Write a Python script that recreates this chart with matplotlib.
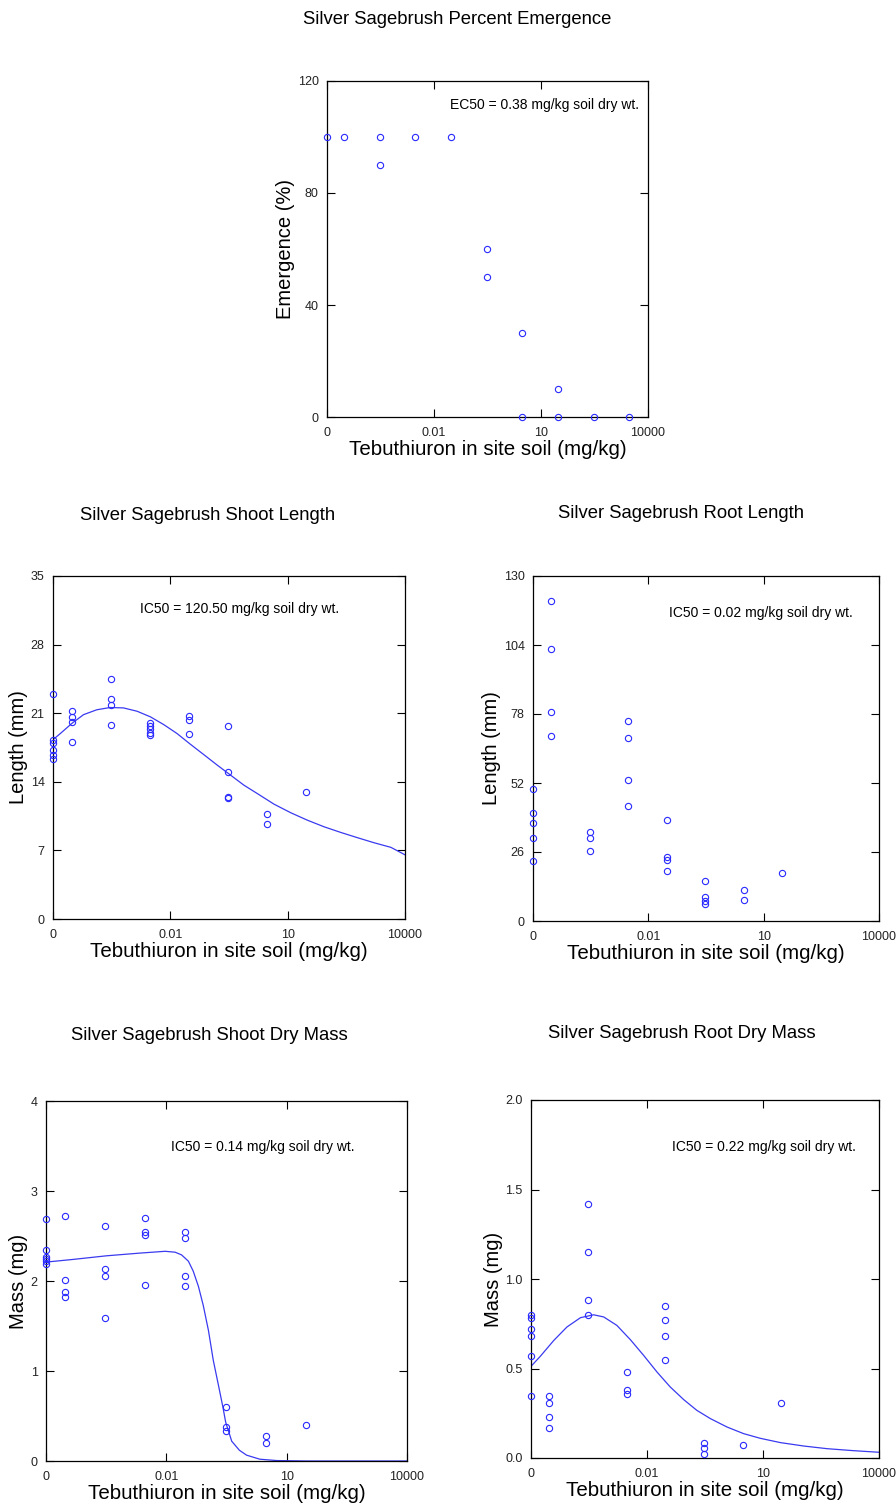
import matplotlib
matplotlib.use('Agg')
import matplotlib.pyplot as plt
import numpy as np

plt.rcParams['font.family'] = ['Liberation Sans', 'DejaVu Sans']

# control samples are plotted at the left edge of the log axis (labelled "0")
ctrl = 1e-5

# --- Percent emergence
emerg_x = [ctrl, 3e-5, 3e-4, 3e-4, 3e-3, 3e-2, 0.3, 0.3, 3, 3, 30, 30, 300, 3000]
emerg_y = [100, 100, 100, 90, 100, 100, 60, 50, 30, 0, 10, 0, 0, 0]

# --- Shoot length (mm)
shoot_len_x = [ctrl]*6 + [3e-5]*4 + [3e-4]*4 + [3e-3]*5 + [3e-2]*3 + [0.3]*4 + [3]*2 + [30]
shoot_len_y = [23.0, 18.3, 18.0, 17.2, 16.7, 16.3,
               21.2, 20.6, 20.1, 18.1,
               24.5, 22.4, 21.8, 19.8,
               20.0, 19.7, 19.4, 19.0, 18.8,
               20.7, 20.3, 18.9,
               19.7, 15.0, 12.5, 12.3,
               10.7, 9.7,
               13.0]
shoot_len_fit_logx = [-5, -4.82, -4.52, -4.22, -3.88, -3.54, -3.2, -2.85, -2.51, -2.17, -1.83,
                      -1.49, -1.15, -0.8, -0.46, -0.12, 0.22, 0.65, 1.08, 1.5, 1.93, 2.36,
                      2.79, 3.21, 3.64, 4.0]
shoot_len_fit_y = [18.3, 18.9, 19.95, 20.85, 21.35, 21.58, 21.54, 21.2, 20.63, 19.84, 18.93,
                   17.84, 16.79, 15.7, 14.68, 13.66, 12.81, 11.72, 10.84, 10.09, 9.41, 8.83,
                   8.29, 7.78, 7.31, 6.55]

# --- Root length (mm)
root_len_x = [ctrl]*5 + [3e-5]*4 + [3e-4]*3 + [3e-3]*4 + [3e-2]*4 + [0.3]*4 + [3]*2 + [30]
root_len_y = [49.7, 40.8, 36.9, 31.1, 22.7,
              120.7, 102.5, 78.7, 69.8,
              33.7, 31.2, 26.2,
              75.4, 69.0, 53.3, 43.3,
              37.9, 24.1, 23.0, 18.9,
              15.1, 8.9, 7.7, 6.5,
              11.7, 8.0,
              18.1]

# --- Shoot dry mass (mg)
shoot_mass_x = [ctrl]*6 + [3e-5]*4 + [3e-4]*4 + [3e-3]*4 + [3e-2]*4 + [0.3]*3 + [3]*2 + [30]
shoot_mass_y = [2.69, 2.35, 2.27, 2.24, 2.22, 2.19,
                2.72, 2.01, 1.88, 1.82,
                2.61, 2.13, 2.06, 1.59,
                2.70, 2.55, 2.51, 1.96,
                2.55, 2.48, 2.06, 1.95,
                0.60, 0.38, 0.33,
                0.28, 0.20,
                0.40]
shoot_mass_fit_logx = [-5, -4.32, -3.49, -2.66, -2.03, -1.78, -1.62, -1.45, -1.33, -1.2, -1.08,
                       -0.95, -0.83, -0.7, -0.59, -0.52, -0.37, -0.18, 0.0, 0.33, 0.75, 1.5, 4.0]
shoot_mass_fit_y = [2.21, 2.24, 2.28, 2.31, 2.33, 2.32, 2.29, 2.22, 2.11, 1.94, 1.73,
                    1.45, 1.12, 0.84, 0.60, 0.43, 0.22, 0.12, 0.065, 0.02, 0.005, 0.0, 0.0]

# --- Root dry mass (mg)
root_mass_x = [ctrl]*6 + [3e-5]*4 + [3e-4]*4 + [3e-3]*3 + [3e-2]*4 + [0.3]*3 + [3] + [30]
root_mass_y = [0.80, 0.78, 0.72, 0.68, 0.57, 0.345,
               0.345, 0.31, 0.23, 0.17,
               1.42, 1.15, 0.88, 0.80,
               0.48, 0.38, 0.36,
               0.85, 0.77, 0.68, 0.55,
               0.084, 0.056, 0.024,
               0.071,
               0.305]
root_mass_fit_logx = [-5, -4.76, -4.41, -4.07, -3.72, -3.38, -3.12, -2.78, -2.43, -2.09, -1.74,
                      -1.4, -1.05, -0.71, -0.36, 0.07, 0.5, 0.93, 1.45, 2.05, 2.66, 3.34, 4.0]
root_mass_fit_y = [0.512, 0.568, 0.657, 0.732, 0.784, 0.80, 0.788, 0.741, 0.661, 0.574, 0.48,
                   0.397, 0.326, 0.266, 0.22, 0.173, 0.136, 0.11, 0.086, 0.067, 0.052, 0.041,
                   0.032]

W, H = 896, 1509
fig = plt.figure(figsize=(W/100, H/100), dpi=100)

pt_col = '#2a2aff'
line_col = '#3a3af0'


def make_axes(left, top, right, bottom):
    return fig.add_axes([left/W, 1 - bottom/H, (right-left)/W, (bottom-top)/H])


def style(ax, yticks, ylabels, ymax, ylab):
    ax.set_xscale('log')
    ax.set_xlim(1e-5, 1e4)
    ax.set_ylim(0, ymax)
    ax.set_xticks([1e-5, 1e-2, 1e1, 1e4])
    ax.set_xticklabels(['0', '0.01', '10', '10000'])
    ax.minorticks_off()
    ax.set_yticks(yticks)
    ax.set_yticklabels(ylabels)
    ax.tick_params(direction='in', top=True, right=True, length=6, width=0.8,
                   labelsize=9, labelcolor='#222222')
    ax.tick_params(axis='x', pad=7)
    ax.tick_params(axis='y', pad=6)
    for s in ax.spines.values():
        s.set_linewidth(0.9)
    ax.set_xlabel('Tebuthiuron in site soil (mg/kg)', fontsize=14.8, labelpad=1)
    ax.set_ylabel(ylab, fontsize=14.5, labelpad=2)


def scatter(ax, x, y):
    ax.plot(x, y, 'o', ms=4.5, mfc='none', mec=pt_col, mew=0.8, clip_on=False, zorder=3)


# top: emergence
ax = make_axes(327, 81, 648, 417)
style(ax, [0, 40, 80, 120], ['0', '40', '80', '120'], 120, 'Emergence (%)')
scatter(ax, emerg_x, emerg_y)
ax.text(0.383, 0.929, 'EC50 = 0.38 mg/kg soil dry wt.', transform=ax.transAxes,
        fontsize=10, va='center')
fig.text(457/W, 1 - 20/H, 'Silver Sagebrush Percent Emergence', ha='center', va='center',
         fontsize=13.3)

# shoot length
ax = make_axes(53, 576, 405, 919)
style(ax, [0, 7, 14, 21, 28, 35], ['0', '7', '14', '21', '28', '35'], 35, 'Length (mm)')
ax.plot(10**np.array(shoot_len_fit_logx), shoot_len_fit_y, color=line_col, lw=0.9)
scatter(ax, shoot_len_x, shoot_len_y)
ax.text(0.247, 0.904, 'IC50 = 120.50 mg/kg soil dry wt.', transform=ax.transAxes,
        fontsize=10, va='center')
fig.text(208/W, 1 - 515/H, 'Silver Sagebrush Shoot Length', ha='center', va='center',
         fontsize=13.3)

# root length
ax = make_axes(533, 576, 879, 921)
style(ax, [0, 26, 52, 78, 104, 130], ['0', '26', '52', '78', '104', '130'], 130, 'Length (mm)')
scatter(ax, root_len_x, root_len_y)
ax.text(0.393, 0.893, 'IC50 = 0.02 mg/kg soil dry wt.', transform=ax.transAxes,
        fontsize=10, va='center')
fig.text(681/W, 1 - 514/H, 'Silver Sagebrush Root Length', ha='center', va='center',
         fontsize=13.3)

# shoot dry mass
ax = make_axes(46, 1101, 407, 1461)
style(ax, [0, 1, 2, 3, 4], ['0', '1', '2', '3', '4'], 4, 'Mass (mg)')
ax.plot(10**np.array(shoot_mass_fit_logx), shoot_mass_fit_y, color=line_col, lw=0.9)
scatter(ax, shoot_mass_x, shoot_mass_y)
ax.text(0.346, 0.872, 'IC50 = 0.14 mg/kg soil dry wt.', transform=ax.transAxes,
        fontsize=10, va='center')
fig.text(209/W, 1 - 1035/H, 'Silver Sagebrush Shoot Dry Mass', ha='center', va='center',
         fontsize=13.3)

# root dry mass
ax = make_axes(531, 1100, 879, 1458)
style(ax, [0, 0.5, 1.0, 1.5, 2.0], ['0.0', '0.5', '1.0', '1.5', '2.0'], 2, 'Mass (mg)')
ax.plot(10**np.array(root_mass_fit_logx), root_mass_fit_y, color=line_col, lw=0.9)
scatter(ax, root_mass_x, root_mass_y)
ax.text(0.405, 0.869, 'IC50 = 0.22 mg/kg soil dry wt.', transform=ax.transAxes,
        fontsize=10, va='center')
fig.text(682/W, 1 - 1034/H, 'Silver Sagebrush Root Dry Mass', ha='center', va='center',
         fontsize=13.3)

fig.savefig('out.png', dpi=100)
